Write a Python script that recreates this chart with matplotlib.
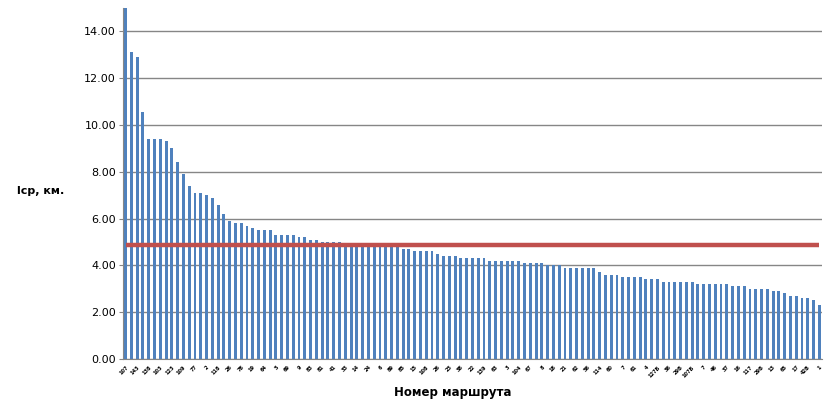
import matplotlib.pyplot as plt
import numpy as np

# средняя длина по маршрутам, км (отсортировано по убыванию)
lengths = [
    15.0, 13.1, 12.9, 10.54, 9.42, 9.42, 9.42, 9.33, 9.03, 8.43,
    7.92, 7.41, 7.11, 7.11, 7.02, 6.89, 6.59, 6.21, 5.91, 5.82,
    5.82, 5.69, 5.61, 5.52, 5.52, 5.52, 5.31, 5.31, 5.31, 5.31,
    5.22, 5.22, 5.09, 5.09, 5.01, 5.01, 5.01, 5.01, 4.92, 4.92,
    4.9, 4.9, 4.9, 4.85, 4.85, 4.83, 4.83, 4.82, 4.71, 4.71,
    4.62, 4.62, 4.62, 4.62, 4.49, 4.41, 4.41, 4.41, 4.32, 4.32,
    4.32, 4.32, 4.32, 4.19, 4.19, 4.19, 4.19, 4.19, 4.19, 4.11,
    4.11, 4.11, 4.11, 4.0, 4.0, 4.0, 3.9, 3.9, 3.9, 3.9,
    3.9, 3.9, 3.72, 3.6, 3.6, 3.6, 3.51, 3.51, 3.51, 3.51,
    3.42, 3.42, 3.42, 3.3, 3.3, 3.3, 3.3, 3.3, 3.3, 3.21,
    3.21, 3.21, 3.21, 3.21, 3.21, 3.12, 3.12, 3.12, 3.0, 3.0,
    3.0, 3.0, 2.91, 2.91, 2.83, 2.7, 2.7, 2.61, 2.61, 2.52,
    2.31,
]
# подписи маршрутов (видна каждая вторая)
routes_shown = [
    '107', '143', '138', '103', '123', '109', '77', '2', '118', '26',
    '78', '19', '64', '5', '69', '9', '83', '81', '41', '33',
    '14', '24', '6', '89', '85', '15', '108', '26', '23', '38',
    '22', '139', '63', '3', '104', '67', '8', '18', '21', '62',
    '56', '114', '60', '7', '61', '4', '127Б', '36', '29Б', '107Б',
    '7', '46', '37', '16', '117', '29Б', '13', '65', '17', '42В',
    '1',
]
mean_length = 4.88

fig = plt.figure(figsize=(8.39, 4.16), dpi=100)
ax = fig.add_axes([0.1466, 0.137, 0.8334, 0.844])

x = np.arange(len(lengths))
ax.bar(x, lengths, width=0.5, color='#4F81BD', zorder=2)
ax.plot(x, [mean_length] * len(x), color='#C0504D', linewidth=3.2, zorder=3,
        solid_capstyle='butt')

ax.set_ylim(0, 15)
ax.set_xlim(-0.45, len(lengths) - 0.5)
ax.set_yticks(np.arange(0, 15, 2))
ax.set_yticklabels(['{:.2f}'.format(v) for v in np.arange(0, 15, 2)], fontsize=8)
ax.yaxis.grid(True, color='#868686', linewidth=1.0, zorder=0)
ax.set_axisbelow(True)

ax.set_xticks(x[::2])
ax.set_xticklabels(routes_shown, fontsize=3.6, fontweight='bold', rotation=45,
                   ha='right', rotation_mode='anchor')
ax.tick_params(axis='x', length=0, pad=4)
ax.tick_params(axis='y', length=3, color='#868686', pad=2)

for s in ['top', 'right']:
    ax.spines[s].set_visible(False)
ax.spines['left'].set_color('#868686')
ax.spines['bottom'].set_color('#868686')

fig.text(0.02, 0.54, 'lср, км.', fontsize=8, fontweight='bold', va='center')
fig.text(0.54, 0.057, 'Номер маршрута', fontsize=8.5, fontweight='bold',
         ha='center', va='center')

fig.savefig('out.png', dpi=100)
